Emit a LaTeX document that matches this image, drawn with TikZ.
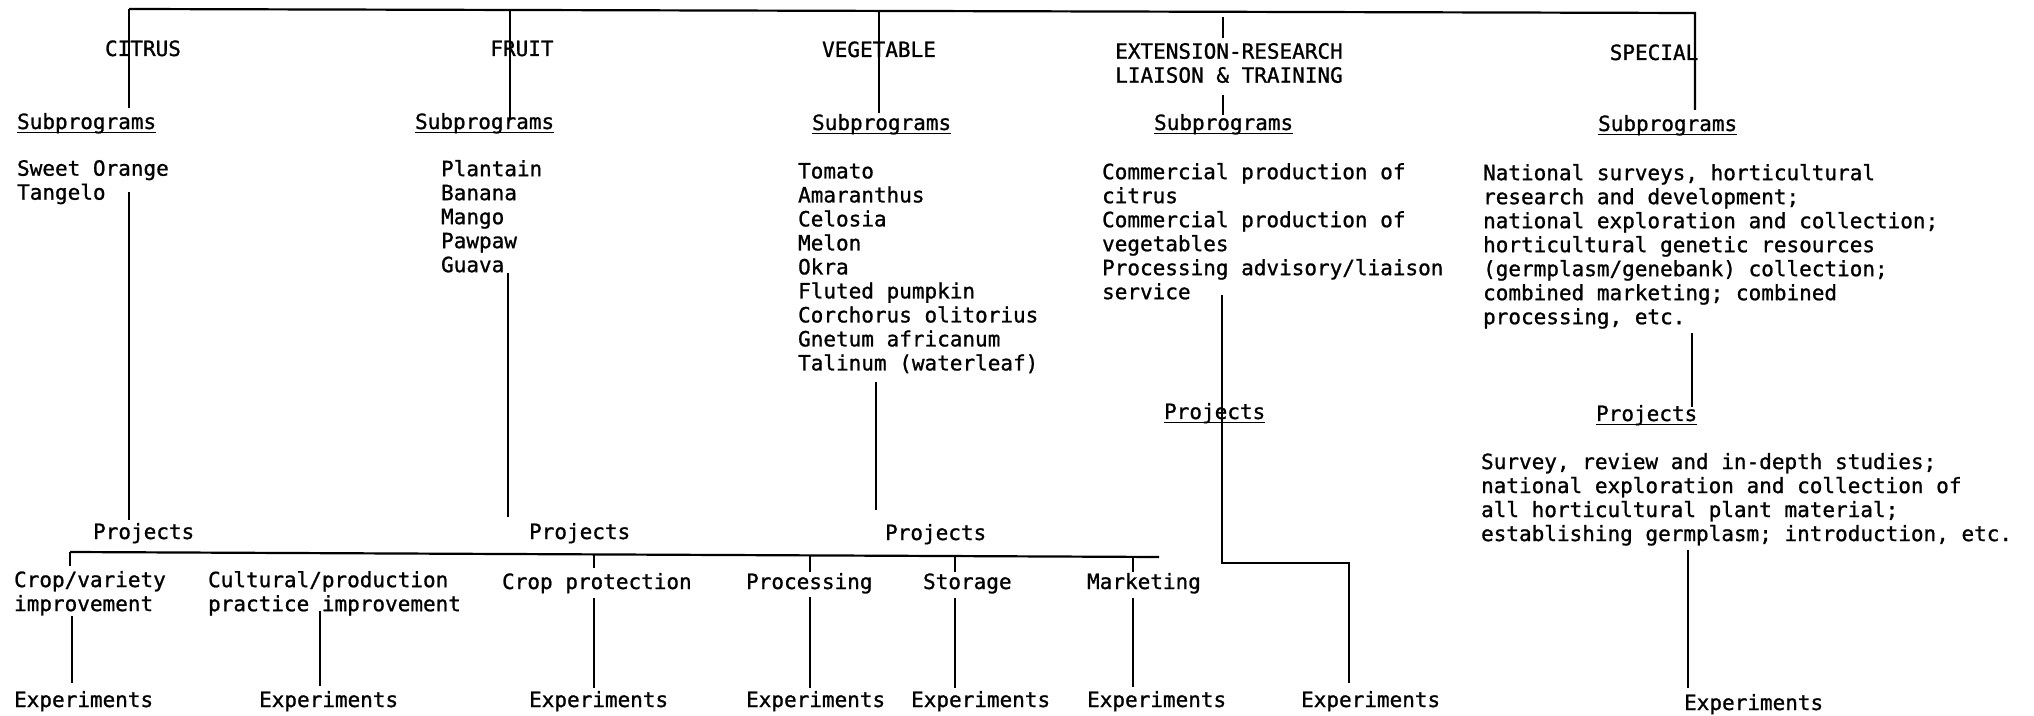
\documentclass[tikz,border=0pt]{standalone}
\usepackage{fontspec}
\newfontfamily\twfont[FakeBold=1]{DejaVu Sans Mono}
\newcommand\tw{\twfont\fontsize{10.5}{12}\selectfont}
\newsavebox\undlbox
\newcommand\undl[1]{\sbox\undlbox{#1}\rlap{\rule[-2.2pt]{\wd\undlbox}{0.9pt}}\usebox\undlbox}
\begin{document}
\begin{tikzpicture}[x=0.5pt,y=-0.5pt,line width=1.1pt,
  txt/.style={font=\tw,inner sep=0pt},
  blk/.style={txt,anchor=north west,align=left,execute at begin node=\strut}]
\useasboundingbox[fill=white] (0,0) rectangle (2034,716);

% programme headings
\node[txt,anchor=base] (citrus) at (143,56) {CITRUS};
\node[txt,anchor=base] (fruit) at (522,56) {FRUIT};
\node[txt,anchor=base] (veg) at (879,57) {VEGETABLE};
\node[txt,anchor=north,align=center,execute at begin node=\strut] (ext) at (1229,42) {EXTENSION-RESEARCH\\LIAISON \& TRAINING};
\node[txt,anchor=base] (special) at (1654,60) {SPECIAL};

% subprogram headings
\node[txt,anchor=base west] (citSub) at (16,129) {\undl{Subprograms}};
\node[txt,anchor=base west] (fruSub) at (414,129) {\undl{Subprograms}};
\node[txt,anchor=base west] (vegSub) at (811,130) {\undl{Subprograms}};
\node[txt,anchor=base west] (extSub) at (1153,130) {\undl{Subprograms}};
\node[txt,anchor=base west] (speSub) at (1597,131) {\undl{Subprograms}};

% subprogram lists
\node[blk] (citList) at (16,159) {Sweet Orange\\Tangelo};
\node[blk] (fruList) at (440,159) {Plantain\\Banana\\Mango\\Pawpaw\\Guava};
\node[blk] (vegList) at (797,162) {Tomato\\Amaranthus\\Celosia\\Melon\\Okra\\Fluted pumpkin\\Corchorus olitorius\\Gnetum africanum\\Talinum (waterleaf)};
\node[blk] (extList) at (1101,162) {Commercial production of\\citrus\\Commercial production of\\vegetables\\Processing advisory/liaison\\service};
\node[blk] (speList) at (1482,163) {National surveys, horticultural\\research and development;\\national exploration and collection;\\horticultural genetic resources\\(germplasm/genebank) collection;\\combined marketing; combined\\processing, etc.};

% project headings
\node[txt,anchor=base west] (citProj) at (92,539) {Projects};
\node[txt,anchor=base west] (fruProj) at (528,539) {Projects};
\node[txt,anchor=base west] (vegProj) at (884,540) {Projects};
\node[txt,anchor=base west] (extProj) at (1163,419) {\undl{Projects}};
\node[txt,anchor=base west] (speProj) at (1595,421) {\undl{Projects}};
\node[blk] (speProjList) at (1480,452) {Survey, review and in-depth studies;\\national exploration and collection of\\all horticultural plant material;\\establishing germplasm; introduction, etc.};

% project categories
\node[blk] (pCrop) at (13,570) {Crop/variety\\improvement};
\node[blk] (pCult) at (207,570) {Cultural/production\\practice improvement};
\node[txt,anchor=base west] (pProt) at (501,589) {Crop protection};
\node[txt,anchor=base west] (pProc) at (745,589) {Processing};
\node[txt,anchor=base west] (pStor) at (922,589) {Storage};
\node[txt,anchor=base west] (pMark) at (1086,589) {Marketing};

% experiments
\node[txt,anchor=base west] (e1) at (13,707) {Experiments};
\node[txt,anchor=base west] (e2) at (258,707) {Experiments};
\node[txt,anchor=base west] (e3) at (528,707) {Experiments};
\node[txt,anchor=base west] (e4) at (745,707) {Experiments};
\node[txt,anchor=base west] (e5) at (910,707) {Experiments};
\node[txt,anchor=base west] (e6) at (1086,707) {Experiments};
\node[txt,anchor=base west] (e7) at (1300,707) {Experiments};
\node[txt,anchor=base west] (e8) at (1683,710) {Experiments};

% junction points
\coordinate (barCit) at (129,9);
\coordinate (barFru) at (510,10);
\coordinate (barVeg) at (879,11);
\coordinate (barSpe) at (1695,13);
\coordinate (projL) at (70,552);
\coordinate (projR) at (1159,557);
\coordinate (extBend) at (1222,563);
\coordinate (extTurn) at (1349,563);

% top bar and programme drops
\draw (barCit) -- (barSpe) -- (1695,110);
\draw (barCit) -- (129,108);
\draw (barFru) -- (510,119);
\draw (barVeg) -- (879,113);
\draw (1223,17) -- (1223,38);
\draw (1223,95) -- (1223,115);

% subprograms to projects
\draw (129,192) -- (129,520);
\draw (508,273) -- (508,517);
\draw (876,382) -- (876,510);
\draw (1222,295) -- (extBend) -- (extTurn) -- (1349,683);
\draw (1692,333) -- (1692,407);
\draw (1688,550) -- (1688,688);

% project bar, ticks and experiment drops
\draw (projL) -- (projR);
\draw (projL) -- (70,566);
\draw (594,554.4) -- (594,568);
\draw (810,555.4) -- (810,572);
\draw (955,556.1) -- (955,572);
\draw (1133,556.9) -- (1133,572);
\draw (72,616) -- (72,683);
\draw (320,611) -- (320,686);
\draw (594,598) -- (594,688);
\draw (810,597) -- (810,688);
\draw (955,598) -- (955,688);
\draw (1133,598) -- (1133,687);
\end{tikzpicture}
\end{document}
